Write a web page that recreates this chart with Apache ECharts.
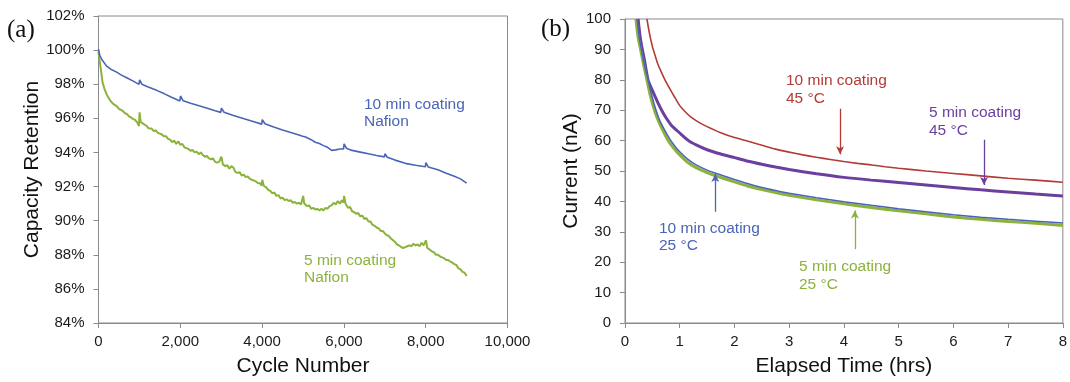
<!DOCTYPE html>
<html>
<head>
<meta charset="utf-8">
<script src="https://cdn.jsdelivr.net/npm/echarts@6/dist/echarts.min.js"></script>
<style>
  html, body { margin: 0; padding: 0; background: #fff; }
  #chart { width: 1070px; height: 382px; }
</style>
</head>
<body>
<div id="chart"></div>
<script>
// panel (a): capacity retention vs cycle number, [cycle, %]
const tenMinNafion = [
  [0, 100.05], [30, 99.7], [80, 99.45], [200, 99.06], [300, 98.88], [444, 98.71], [550, 98.55],
  [689, 98.38], [850, 98.18], [990, 97.99], [1005, 98.25], [1060, 98.0], [1200, 97.85],
  [1422, 97.64], [1600, 97.45], [1800, 97.22], [1990, 97.02], [2005, 97.31], [2070, 97.03],
  [2250, 96.88], [2480, 96.72], [2700, 96.56], [2850, 96.44], [2990, 96.35], [3005, 96.6],
  [3070, 96.36], [3300, 96.17], [3540, 95.99], [3800, 95.8], [3990, 95.66], [4005, 95.92],
  [4070, 95.68], [4300, 95.48], [4500, 95.32], [4700, 95.17], [4900, 95.02], [4990, 94.95],
  [5005, 95.05], [5050, 94.92], [5200, 94.75], [5300, 94.6], [5400, 94.52], [5500, 94.4],
  [5600, 94.3], [5700, 94.12], [5800, 94.15], [5900, 94.2], [5990, 94.2], [6005, 94.5],
  [6060, 94.25], [6200, 94.12], [6400, 94.02], [6600, 93.92], [6800, 93.82], [6990, 93.74],
  [7005, 93.92], [7060, 93.72], [7250, 93.55], [7500, 93.36], [7750, 93.25], [7990, 93.16],
  [8005, 93.4], [8060, 93.15], [8300, 92.98], [8500, 92.78], [8700, 92.6], [8850, 92.45],
  [9000, 92.2]
];
const fiveMinNafion = [
  [0, 99.9], [20, 99.5], [50, 99.0], [100, 98.1], [150, 97.7], [200, 97.4], [260, 97.15],
  [300, 97.0], [360, 96.85], [400, 96.75], [450, 96.7], [500, 96.55], [550, 96.5], [600, 96.42],
  [650, 96.3], [700, 96.25], [750, 96.1], [800, 96.05], [850, 95.95], [900, 95.9], [950, 95.75],
  [990, 95.55], [1005, 96.35], [1030, 95.8], [1080, 95.7], [1120, 95.6], [1180, 95.55],
  [1230, 95.4], [1300, 95.4], [1350, 95.25], [1400, 95.3], [1450, 95.15], [1500, 95.1],
  [1550, 95.05], [1600, 94.95], [1650, 94.95], [1700, 94.8], [1750, 94.75], [1800, 94.6],
  [1850, 94.7], [1900, 94.5], [1950, 94.65], [2000, 94.45], [2050, 94.5], [2100, 94.3],
  [2150, 94.25], [2200, 94.2], [2250, 94.1], [2300, 94.15], [2350, 94.0], [2400, 94.05],
  [2450, 93.9], [2500, 94.0], [2550, 93.85], [2600, 93.75], [2650, 93.8], [2700, 93.65],
  [2750, 93.6], [2800, 93.65], [2850, 93.45], [2900, 93.4], [2950, 93.45], [2990, 93.35],
  [3005, 93.75], [3040, 93.3], [3100, 93.2], [3150, 93.25], [3200, 93.05], [3250, 93.2],
  [3300, 93.1], [3350, 92.85], [3400, 92.8], [3450, 92.85], [3500, 92.65], [3550, 92.7],
  [3600, 92.55], [3650, 92.6], [3700, 92.45], [3750, 92.4], [3800, 92.35], [3850, 92.3],
  [3900, 92.2], [3950, 92.2], [3990, 92.05], [4005, 92.4], [4040, 92.05], [4100, 91.95],
  [4150, 91.8], [4200, 91.75], [4250, 91.6], [4300, 91.65], [4350, 91.45], [4400, 91.5],
  [4450, 91.3], [4500, 91.35], [4550, 91.2], [4600, 91.25], [4650, 91.15], [4700, 91.2],
  [4750, 91.05], [4800, 91.1], [4850, 91.0], [4900, 91.05], [4950, 90.95], [4990, 90.95],
  [5005, 91.45], [5030, 91.0], [5100, 90.85], [5150, 90.9], [5200, 90.7], [5250, 90.75],
  [5300, 90.65], [5350, 90.7], [5400, 90.6], [5450, 90.7], [5500, 90.6], [5550, 90.75],
  [5600, 90.7], [5650, 90.85], [5700, 90.9], [5750, 91.05], [5800, 90.95], [5850, 91.15],
  [5900, 91.0], [5950, 91.2], [5990, 91.05], [6005, 91.45], [6040, 91.0], [6100, 90.75],
  [6150, 90.8], [6200, 90.55], [6250, 90.5], [6300, 90.4], [6350, 90.45], [6400, 90.25],
  [6450, 90.3], [6500, 90.1], [6550, 90.15], [6600, 89.95], [6650, 89.95], [6700, 89.75],
  [6750, 89.7], [6800, 89.6], [6850, 89.55], [6900, 89.4], [6950, 89.4], [7000, 89.25],
  [7050, 89.15], [7100, 89.1], [7150, 88.95], [7200, 88.85], [7250, 88.75], [7300, 88.6],
  [7350, 88.55], [7400, 88.45], [7450, 88.4], [7500, 88.45], [7550, 88.5], [7600, 88.55],
  [7650, 88.5], [7700, 88.65], [7750, 88.55], [7800, 88.6], [7850, 88.5], [7900, 88.7],
  [7950, 88.55], [7990, 88.5], [8005, 88.85], [8040, 88.4], [8100, 88.3], [8150, 88.2],
  [8200, 88.15], [8250, 88.0], [8300, 88.0], [8350, 87.9], [8400, 87.85], [8450, 87.8],
  [8500, 87.7], [8550, 87.7], [8600, 87.6], [8650, 87.55], [8700, 87.45], [8750, 87.4],
  [8800, 87.2], [8850, 87.15], [8900, 87.0], [8950, 86.95], [9000, 86.75]
];

// panel (b): current vs elapsed time, [hrs, nA]
const tenMin45 = [
  [0.40, 100], [0.45, 95], [0.5, 91], [0.55, 88], [0.6, 85.2], [0.67, 82.3], [0.73, 80],
  [0.82, 77], [0.9, 74.5], [1.0, 71.5], [1.1, 69.5], [1.2, 67.8], [1.35, 66], [1.5, 64.6],
  [1.75, 62.6], [2.0, 61.0], [2.25, 59.8], [2.5, 58.5], [2.75, 57.2], [3.0, 56.2], [3.25, 55.3],
  [3.5, 54.5], [3.75, 53.8], [4.0, 53.1], [4.25, 52.5], [4.5, 52.0], [4.75, 51.4], [5.0, 50.9],
  [5.5, 50.0], [6.0, 49.2], [6.5, 48.4], [7.0, 47.6], [7.5, 47.0], [8.0, 46.3]
];
const fiveMin45 = [
  [0.24, 100], [0.27, 95], [0.3, 91.5], [0.35, 87], [0.42, 80], [0.5, 76.5], [0.6, 72.5],
  [0.67, 70], [0.75, 67.5], [0.85, 65], [1.0, 62.5], [1.16, 60], [1.3, 58.6], [1.5, 57],
  [1.75, 55.6], [2.0, 54.4], [2.25, 53.2], [2.5, 52.2], [2.75, 51.3], [3.0, 50.5], [3.5, 49.1],
  [4.0, 47.9], [4.5, 47.0], [5.0, 46.2], [5.5, 45.4], [6.0, 44.6], [6.5, 43.8], [7.0, 43.1],
  [7.5, 42.4], [8.0, 41.8]
];
const tenMin25 = [
  [0.22, 100], [0.26, 94], [0.31, 89], [0.36, 84.5], [0.42, 80], [0.48, 75.5], [0.55, 71],
  [0.62, 67.3], [0.7, 64.3], [0.82, 60.5], [0.92, 58], [1.0, 56.3], [1.15, 53.8], [1.3, 52],
  [1.5, 50.3], [1.7, 49.0], [2.0, 47.2], [2.25, 45.8], [2.5, 44.6], [2.75, 43.6], [3.0, 42.7],
  [3.5, 41.2], [4.0, 39.9], [4.5, 38.7], [5.0, 37.6], [5.5, 36.6], [6.0, 35.6], [6.5, 34.8],
  [7.0, 34.1], [7.5, 33.5], [8.0, 32.9]
];
const fiveMin25 = [
  [0.20, 100], [0.24, 94], [0.29, 89.5], [0.34, 85], [0.40, 80], [0.46, 75], [0.53, 70.5],
  [0.6, 67], [0.68, 63.8], [0.79, 60], [0.9, 57.3], [1.0, 55.3], [1.15, 52.8], [1.3, 51.1],
  [1.5, 49.5], [1.7, 48.2], [2.0, 46.4], [2.25, 45], [2.5, 43.9], [2.75, 42.9], [3.0, 42.0],
  [3.5, 40.5], [4.0, 39.2], [4.5, 38.0], [5.0, 36.9], [5.5, 35.9], [6.0, 34.9], [6.5, 34.1],
  [7.0, 33.4], [7.5, 32.8], [8.0, 32.1]
];

// arrows in panel (b): [x, yFrom, yTo]
const arrowTenMin45 = [3.93, 70.5, 55.5];
const arrowFiveMin45 = [6.56, 60.3, 45.4];
const arrowFiveMin25 = [4.2, 24.3, 37.0];
const arrowTenMin25 = [1.65, 36.6, 49.0];

const FONT = '"Liberation Sans", Arial, Helvetica, sans-serif';
const SERIF = '"Liberation Serif", "Times New Roman", serif';
const GREY = '#8a8a8a';
const BLUE = '#4a64b8';
const GREEN = '#8cb23c';
const RED = '#b23b36';
const PURPLE = '#6a3f9e';

const axisCommon = {
  axisLine: { show: true, lineStyle: { color: GREY, width: 1 } },
  axisTick: { show: true, inside: false, length: 5, lineStyle: { color: GREY } },
  splitLine: { show: false },
  axisLabel: { color: '#1a1a1a', fontSize: 15, fontFamily: FONT },
  nameLocation: 'middle',
  nameTextStyle: { color: '#111', fontSize: 21, fontFamily: FONT }
};

function arrow(a, color) {
  return {
    silent: true,
    symbol: ['none', 'arrow'],
    symbolSize: [6, 8],
    label: { show: false },
    lineStyle: { color: color, type: 'solid', width: 1.3 },
    animation: false,
    data: [[{ coord: [a[0], a[1]] }, { coord: [a[0], a[2]] }]]
  };
}

function note(text, x, y, color) {
  return {
    type: 'text', x: x, y: y, silent: true,
    style: { text: text, fill: color, fontSize: 15.5, fontFamily: FONT, lineHeight: 17.5, align: 'left', verticalAlign: 'top' }
  };
}

// decay curves of panel (b)
function decay(data, color, width, arr) {
  return {
    type: 'line', xAxisIndex: 1, yAxisIndex: 1, data: data, showSymbol: false,
    smooth: 0.2,
    lineStyle: { color: color, width: width },
    markLine: arrow(arr, color)
  };
}

const chart = echarts.init(document.getElementById('chart'), null, { renderer: 'canvas' });
chart.setOption({
  animation: false,
  backgroundColor: '#fff',
  grid: [
    { left: 98.5, right: 562.5, top: 16, bottom: 56, show: true, borderColor: GREY, borderWidth: 1 },
    { left: 625, right: 5, top: 19, bottom: 54, show: true, borderColor: GREY, borderWidth: 1 }
  ],
  xAxis: [
    Object.assign({}, axisCommon, {
      gridIndex: 0, type: 'value', min: 0, max: 10000, interval: 2000,
      name: 'Cycle Number', nameGap: 33,
      axisLabel: Object.assign({}, axisCommon.axisLabel, {
        margin: 11,
        formatter: v => v.toLocaleString('en-US')
      })
    }),
    Object.assign({}, axisCommon, {
      gridIndex: 1, type: 'value', min: 0, max: 8, interval: 1,
      name: 'Elapsed Time (hrs)', nameGap: 33,
      axisLabel: Object.assign({}, axisCommon.axisLabel, { margin: 11 })
    })
  ],
  yAxis: [
    Object.assign({}, axisCommon, {
      gridIndex: 0, type: 'value', min: 84, max: 102, interval: 2,
      name: 'Capacity Retention', nameGap: 56,
      axisLabel: Object.assign({}, axisCommon.axisLabel, { margin: 14, formatter: v => v + '%' })
    }),
    Object.assign({}, axisCommon, {
      gridIndex: 1, type: 'value', min: 0, max: 100, interval: 10,
      name: 'Current (nA)', nameGap: 42,
      axisLabel: Object.assign({}, axisCommon.axisLabel, { margin: 14 })
    })
  ],
  series: [
    { type: 'line', xAxisIndex: 0, yAxisIndex: 0, data: fiveMinNafion, showSymbol: false,
      lineStyle: { color: GREEN, width: 2 } },
    { type: 'line', xAxisIndex: 0, yAxisIndex: 0, data: tenMinNafion, showSymbol: false,
      lineStyle: { color: BLUE, width: 1.6 } },
    decay(tenMin45, RED, 1.6, arrowTenMin45),
    decay(fiveMin45, PURPLE, 3, arrowFiveMin45),
    decay(fiveMin25, GREEN, 3, arrowFiveMin25),
    decay(tenMin25, BLUE, 1.5, arrowTenMin25)
  ],
  graphic: [
    { type: 'text', x: 7, y: 30, silent: true,
      style: { text: '(a)', fill: '#111', fontSize: 25, fontFamily: SERIF, verticalAlign: 'middle' } },
    { type: 'text', x: 541, y: 29.5, silent: true,
      style: { text: '(b)', fill: '#111', fontSize: 25, fontFamily: SERIF, verticalAlign: 'middle' } },
    note('10 min coating\nNafion', 364, 95.5, BLUE),
    note('5 min coating\nNafion', 304, 251.5, GREEN),
    note('10 min coating\n45 °C', 786, 72, RED),
    note('5 min coating\n45 °C', 929, 104, PURPLE),
    note('5 min coating\n25 °C', 799, 258, GREEN),
    note('10 min coating\n25 °C', 659, 219.5, BLUE)
  ]
});
</script>
</body>
</html>
